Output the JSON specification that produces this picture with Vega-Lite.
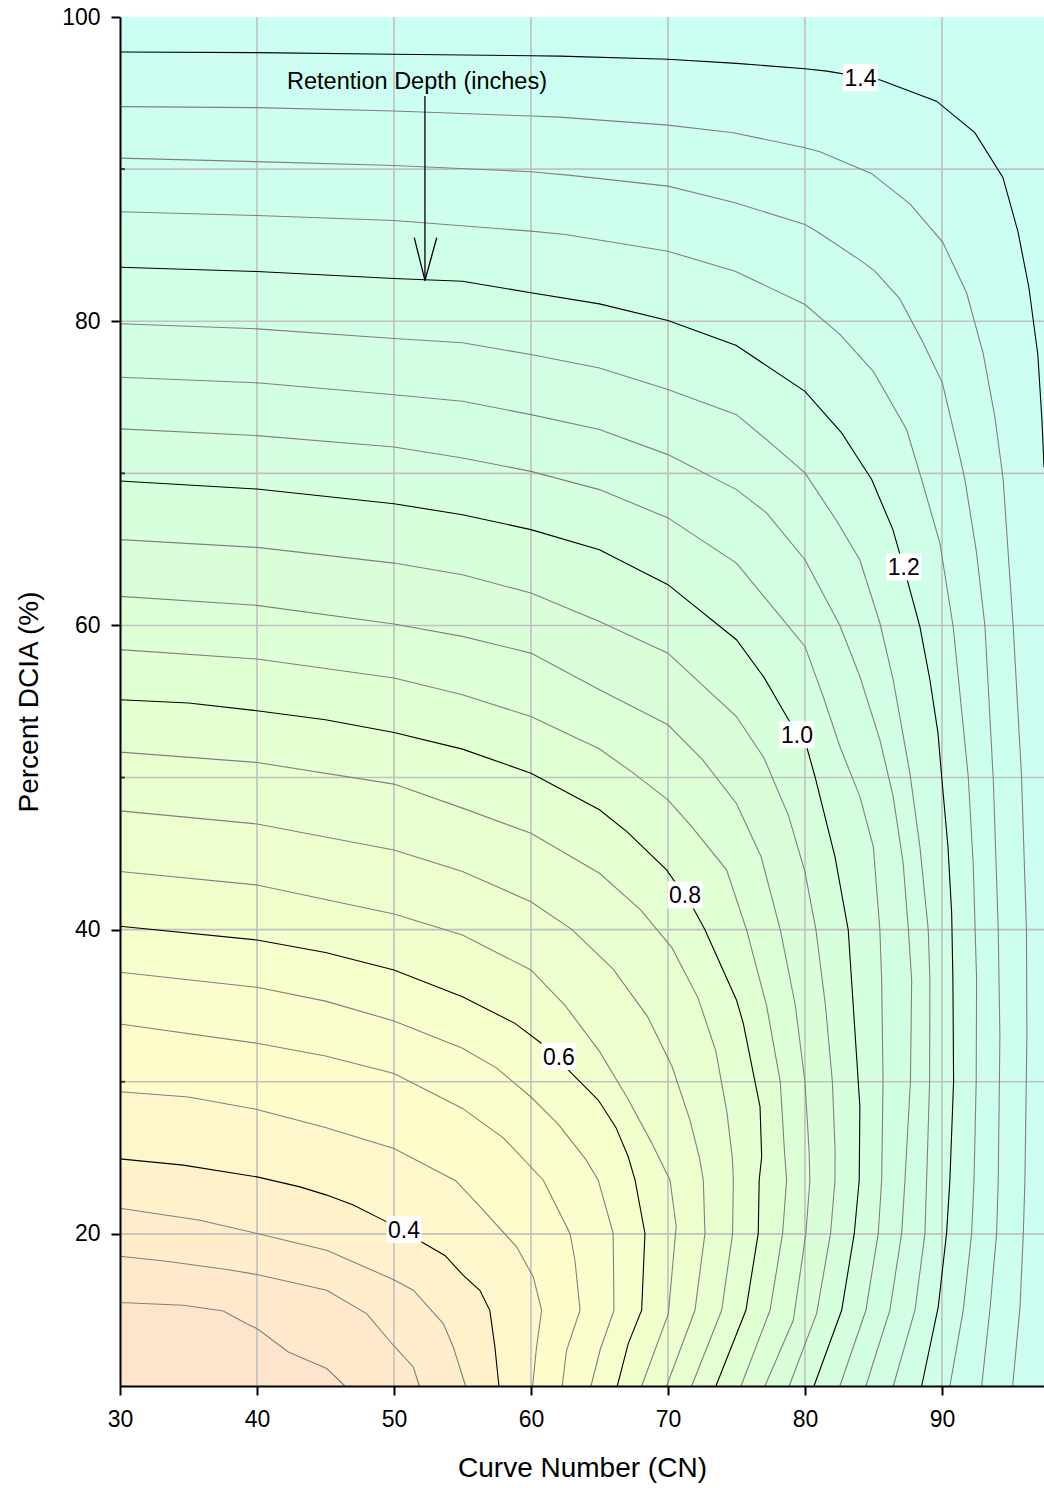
{
"$schema": "https://vega.github.io/schema/vega-lite/v6.json",
"autosize": {"type": "none"},
"padding": {"left": 120, "top": 17, "right": 0, "bottom": 102},
"width": 924,
"height": 1369,
"config": {"font": "Liberation Sans", "view": {"stroke": null}},
"datasets": {
"cont": [
{"l":0.2,"i":1,"x":30,"y":10,"p":"e"},{"l":0.2,"i":2,"x":97.45,"y":10,"p":"e"},{"l":0.2,"i":3,"x":97.45,"y":100,"p":"e"},{"l":0.2,"i":4,"x":30,"y":100,"p":"e"},
{"l":0.25,"i":1,"x":30,"y":15.49},{"l":0.25,"i":2,"x":34.62,"y":15.31},{"l":0.25,"i":3,"x":37.54,"y":14.93},{"l":0.25,"i":4,"x":39.25,"y":14.1},{"l":0.25,"i":5,"x":40,"y":13.78},{"l":0.25,"i":6,"x":42.29,"y":12.24},{"l":0.25,"i":7,"x":45.09,"y":11.15},{"l":0.25,"i":8,"x":46.42,"y":10},{"l":0.25,"i":90,"x":97.45,"y":10,"p":"e"},{"l":0.25,"i":91,"x":97.45,"y":100,"p":"e"},{"l":0.25,"i":92,"x":30,"y":100,"p":"e"},
{"l":0.3,"i":1,"x":30,"y":18.53},{"l":0.3,"i":2,"x":33.4,"y":18.2},{"l":0.3,"i":3,"x":37.8,"y":17.66},{"l":0.3,"i":4,"x":40,"y":17.33},{"l":0.3,"i":5,"x":45.09,"y":16.3},{"l":0.3,"i":6,"x":48,"y":14.76},{"l":0.3,"i":7,"x":49.95,"y":12.68},{"l":0.3,"i":8,"x":51.41,"y":11.25},{"l":0.3,"i":9,"x":51.85,"y":10},{"l":0.3,"i":90,"x":97.45,"y":10,"p":"e"},{"l":0.3,"i":91,"x":97.45,"y":100,"p":"e"},{"l":0.3,"i":92,"x":30,"y":100,"p":"e"},
{"l":0.35,"i":1,"x":30,"y":21.69},{"l":0.35,"i":2,"x":35.84,"y":20.9},{"l":0.35,"i":3,"x":40,"y":20.03},{"l":0.35,"i":4,"x":45.09,"y":18.93},{"l":0.35,"i":5,"x":49.95,"y":17},{"l":0.35,"i":6,"x":51.41,"y":16.3},{"l":0.35,"i":7,"x":53.6,"y":14.1},{"l":0.35,"i":8,"x":54.33,"y":12.56},{"l":0.35,"i":9,"x":55.23,"y":10},{"l":0.35,"i":90,"x":97.45,"y":10,"p":"e"},{"l":0.35,"i":91,"x":97.45,"y":100,"p":"e"},{"l":0.35,"i":92,"x":30,"y":100,"p":"e"},
{"l":0.4,"i":1,"x":30,"y":24.93},{"l":0.4,"i":2,"x":34.62,"y":24.52},{"l":0.4,"i":3,"x":40,"y":23.75},{"l":0.4,"i":4,"x":43.14,"y":23.09},{"l":0.4,"i":5,"x":45.09,"y":22.55},{"l":0.4,"i":6,"x":47.03,"y":21.9},{"l":0.4,"i":7,"x":49.47,"y":20.79},{"l":0.4,"i":8,"x":52.02,"y":19.47},{"l":0.4,"i":9,"x":53.72,"y":18.58},{"l":0.4,"i":10,"x":55.06,"y":17.27},{"l":0.4,"i":11,"x":56.28,"y":16.28},{"l":0.4,"i":12,"x":57,"y":14.96},{"l":0.4,"i":13,"x":57.37,"y":12.54},{"l":0.4,"i":14,"x":57.66,"y":10},{"l":0.4,"i":90,"x":97.45,"y":10,"p":"e"},{"l":0.4,"i":91,"x":97.45,"y":100,"p":"e"},{"l":0.4,"i":92,"x":30,"y":100,"p":"e"},
{"l":0.45,"i":1,"x":30,"y":29.34},{"l":0.45,"i":2,"x":35,"y":29},{"l":0.45,"i":3,"x":40,"y":28.18},{"l":0.45,"i":4,"x":45,"y":27},{"l":0.45,"i":5,"x":50,"y":25.62},{"l":0.45,"i":6,"x":54.5,"y":23.5},{"l":0.45,"i":7,"x":56.52,"y":21.56},{"l":0.45,"i":8,"x":58.95,"y":19.15},{"l":0.45,"i":9,"x":60.17,"y":17.17},{"l":0.45,"i":10,"x":60.78,"y":14.98},{"l":0.45,"i":11,"x":60.4,"y":12.5},{"l":0.45,"i":12,"x":60.12,"y":10},{"l":0.45,"i":90,"x":97.45,"y":10,"p":"e"},{"l":0.45,"i":91,"x":97.45,"y":100,"p":"e"},{"l":0.45,"i":92,"x":30,"y":100,"p":"e"},
{"l":0.5,"i":1,"x":30,"y":33.8},{"l":0.5,"i":2,"x":40,"y":32.53},{"l":0.5,"i":3,"x":45,"y":31.7},{"l":0.5,"i":4,"x":50,"y":30.55},{"l":0.5,"i":5,"x":55,"y":28.25},{"l":0.5,"i":6,"x":58,"y":26.3},{"l":0.5,"i":7,"x":60.9,"y":23.53},{"l":0.5,"i":8,"x":62.85,"y":20.03},{"l":0.5,"i":9,"x":63.21,"y":18.27},{"l":0.5,"i":10,"x":63.58,"y":14.98},{"l":0.5,"i":11,"x":62.6,"y":12.35},{"l":0.5,"i":12,"x":62.28,"y":10},{"l":0.5,"i":90,"x":97.45,"y":10,"p":"e"},{"l":0.5,"i":91,"x":97.45,"y":100,"p":"e"},{"l":0.5,"i":92,"x":30,"y":100,"p":"e"},
{"l":0.55,"i":1,"x":30,"y":37.2},{"l":0.55,"i":2,"x":40,"y":36.21},{"l":0.55,"i":3,"x":45,"y":35.3},{"l":0.55,"i":4,"x":50,"y":34},{"l":0.55,"i":5,"x":55,"y":32.2},{"l":0.55,"i":6,"x":57.5,"y":30.9},{"l":0.55,"i":7,"x":60,"y":29},{"l":0.55,"i":8,"x":62,"y":27.2},{"l":0.55,"i":9,"x":64,"y":24.9},{"l":0.55,"i":10,"x":64.91,"y":23.53},{"l":0.55,"i":11,"x":66,"y":20.03},{"l":0.55,"i":12,"x":66.06,"y":14.98},{"l":0.55,"i":13,"x":65.04,"y":12.35},{"l":0.55,"i":14,"x":64.38,"y":10},{"l":0.55,"i":90,"x":97.45,"y":10,"p":"e"},{"l":0.55,"i":91,"x":97.45,"y":100,"p":"e"},{"l":0.55,"i":92,"x":30,"y":100,"p":"e"},
{"l":0.6,"i":1,"x":30,"y":40.22},{"l":0.6,"i":2,"x":40,"y":39.32},{"l":0.6,"i":3,"x":45,"y":38.5},{"l":0.6,"i":4,"x":50,"y":37.35},{"l":0.6,"i":5,"x":55,"y":35.59},{"l":0.6,"i":6,"x":58.83,"y":33.84},{"l":0.6,"i":7,"x":60.78,"y":32.52},{"l":0.6,"i":8,"x":62.97,"y":30.55},{"l":0.6,"i":9,"x":64.91,"y":28.8},{"l":0.6,"i":10,"x":66.2,"y":27},{"l":0.6,"i":11,"x":67.1,"y":25.07},{"l":0.6,"i":12,"x":67.6,"y":23.53},{"l":0.6,"i":13,"x":68.32,"y":20.03},{"l":0.6,"i":14,"x":68.08,"y":14.98},{"l":0.6,"i":15,"x":67.1,"y":12.79},{"l":0.6,"i":16,"x":66.3,"y":10},{"l":0.6,"i":90,"x":97.45,"y":10,"p":"e"},{"l":0.6,"i":91,"x":97.45,"y":100,"p":"e"},{"l":0.6,"i":92,"x":30,"y":100,"p":"e"},
{"l":0.65,"i":1,"x":30,"y":43.82},{"l":0.65,"i":2,"x":40,"y":42.94},{"l":0.65,"i":3,"x":50,"y":41.03},{"l":0.65,"i":4,"x":55,"y":39.65},{"l":0.65,"i":5,"x":60,"y":37.35},{"l":0.65,"i":6,"x":62.5,"y":35},{"l":0.65,"i":7,"x":65,"y":32},{"l":0.65,"i":8,"x":67,"y":29},{"l":0.65,"i":9,"x":68.8,"y":26},{"l":0.65,"i":10,"x":70.15,"y":23.53},{"l":0.65,"i":11,"x":70.6,"y":20.5},{"l":0.65,"i":12,"x":70.03,"y":14.76},{"l":0.65,"i":13,"x":68.08,"y":10},{"l":0.65,"i":90,"x":97.45,"y":10,"p":"e"},{"l":0.65,"i":91,"x":97.45,"y":100,"p":"e"},{"l":0.65,"i":92,"x":30,"y":100,"p":"e"},
{"l":0.7,"i":1,"x":30,"y":47.81},{"l":0.7,"i":2,"x":40,"y":46.95},{"l":0.7,"i":3,"x":50,"y":45.24},{"l":0.7,"i":4,"x":55,"y":43.82},{"l":0.7,"i":5,"x":60,"y":41.84},{"l":0.7,"i":6,"x":63,"y":40},{"l":0.7,"i":7,"x":66,"y":37.4},{"l":0.7,"i":8,"x":68.5,"y":34.3},{"l":0.7,"i":9,"x":70.3,"y":31},{"l":0.7,"i":10,"x":71.6,"y":27.5},{"l":0.7,"i":11,"x":72.3,"y":25},{"l":0.7,"i":12,"x":72.58,"y":23.53},{"l":0.7,"i":13,"x":72.7,"y":20.03},{"l":0.7,"i":14,"x":71.97,"y":14.98},{"l":0.7,"i":15,"x":69.9,"y":10},{"l":0.7,"i":90,"x":97.45,"y":10,"p":"e"},{"l":0.7,"i":91,"x":97.45,"y":100,"p":"e"},{"l":0.7,"i":92,"x":30,"y":100,"p":"e"},
{"l":0.75,"i":1,"x":30,"y":51.67},{"l":0.75,"i":2,"x":40,"y":50.99},{"l":0.75,"i":3,"x":50,"y":49.57},{"l":0.75,"i":4,"x":55,"y":47.99},{"l":0.75,"i":5,"x":60,"y":46.34},{"l":0.75,"i":6,"x":65,"y":43.71},{"l":0.75,"i":7,"x":68,"y":41.3},{"l":0.75,"i":8,"x":70.3,"y":38.8},{"l":0.75,"i":9,"x":72.2,"y":35.5},{"l":0.75,"i":10,"x":73.5,"y":32},{"l":0.75,"i":11,"x":74.3,"y":28},{"l":0.75,"i":12,"x":74.7,"y":25},{"l":0.75,"i":13,"x":74.77,"y":23.53},{"l":0.75,"i":14,"x":74.72,"y":20.03},{"l":0.75,"i":15,"x":73.92,"y":14.98},{"l":0.75,"i":16,"x":71.73,"y":10},{"l":0.75,"i":90,"x":97.45,"y":10,"p":"e"},{"l":0.75,"i":91,"x":97.45,"y":100,"p":"e"},{"l":0.75,"i":92,"x":30,"y":100,"p":"e"},
{"l":0.8,"i":1,"x":30,"y":55.12},{"l":0.8,"i":2,"x":35,"y":54.9},{"l":0.8,"i":3,"x":40,"y":54.39},{"l":0.8,"i":4,"x":45,"y":53.8},{"l":0.8,"i":5,"x":50,"y":52.96},{"l":0.8,"i":6,"x":55,"y":51.87},{"l":0.8,"i":7,"x":60,"y":50.29},{"l":0.8,"i":8,"x":60.9,"y":49.85},{"l":0.8,"i":9,"x":65,"y":47.88},{"l":0.8,"i":10,"x":67,"y":46.45},{"l":0.8,"i":11,"x":69.9,"y":43.93},{"l":0.8,"i":12,"x":71.85,"y":41.41},{"l":0.8,"i":13,"x":72.7,"y":39.99},{"l":0.8,"i":14,"x":75,"y":35.38},{"l":0.8,"i":15,"x":75.5,"y":33.84},{"l":0.8,"i":16,"x":76.72,"y":28.36},{"l":0.8,"i":17,"x":76.84,"y":25.07},{"l":0.8,"i":18,"x":76.66,"y":23.55},{"l":0.8,"i":19,"x":76.59,"y":20.03},{"l":0.8,"i":20,"x":75.69,"y":14.98},{"l":0.8,"i":21,"x":73.5,"y":10},{"l":0.8,"i":90,"x":97.45,"y":10,"p":"e"},{"l":0.8,"i":91,"x":97.45,"y":100,"p":"e"},{"l":0.8,"i":92,"x":30,"y":100,"p":"e"},
{"l":0.85,"i":1,"x":30,"y":58.41},{"l":0.85,"i":2,"x":40,"y":57.79},{"l":0.85,"i":3,"x":50,"y":56.54},{"l":0.85,"i":4,"x":55,"y":55.44},{"l":0.85,"i":5,"x":60,"y":54.01},{"l":0.85,"i":6,"x":63.58,"y":52.48},{"l":0.85,"i":7,"x":64.93,"y":51.93},{"l":0.85,"i":8,"x":67.48,"y":50.29},{"l":0.85,"i":9,"x":70,"y":48.53},{"l":0.85,"i":10,"x":71.73,"y":46.78},{"l":0.85,"i":11,"x":74.28,"y":43.93},{"l":0.85,"i":12,"x":75.74,"y":39.98},{"l":0.85,"i":13,"x":77.2,"y":35},{"l":0.85,"i":14,"x":78.2,"y":30},{"l":0.85,"i":15,"x":78.5,"y":25.5},{"l":0.85,"i":16,"x":78.66,"y":23.53},{"l":0.85,"i":17,"x":78.37,"y":20.03},{"l":0.85,"i":18,"x":77.45,"y":14.98},{"l":0.85,"i":19,"x":75.33,"y":10},{"l":0.85,"i":90,"x":97.45,"y":10,"p":"e"},{"l":0.85,"i":91,"x":97.45,"y":100,"p":"e"},{"l":0.85,"i":92,"x":30,"y":100,"p":"e"},
{"l":0.9,"i":1,"x":30,"y":61.91},{"l":0.9,"i":2,"x":40,"y":61.32},{"l":0.9,"i":3,"x":50,"y":60.09},{"l":0.9,"i":4,"x":55,"y":59.28},{"l":0.9,"i":5,"x":60,"y":58.18},{"l":0.9,"i":6,"x":65,"y":55.77},{"l":0.9,"i":7,"x":70,"y":53.47},{"l":0.9,"i":8,"x":72.5,"y":51.2},{"l":0.9,"i":9,"x":75,"y":48.3},{"l":0.9,"i":10,"x":76.8,"y":44.8},{"l":0.9,"i":11,"x":78.2,"y":40},{"l":0.9,"i":12,"x":79.3,"y":35},{"l":0.9,"i":13,"x":80,"y":30},{"l":0.9,"i":14,"x":80.3,"y":25.5},{"l":0.9,"i":15,"x":80.36,"y":23.53},{"l":0.9,"i":16,"x":80.07,"y":20.03},{"l":0.9,"i":17,"x":79.15,"y":14.32},{"l":0.9,"i":18,"x":77.08,"y":10},{"l":0.9,"i":90,"x":97.45,"y":10,"p":"e"},{"l":0.9,"i":91,"x":97.45,"y":100,"p":"e"},{"l":0.9,"i":92,"x":30,"y":100,"p":"e"},
{"l":0.95,"i":1,"x":30,"y":65.64},{"l":0.95,"i":2,"x":40,"y":65.13},{"l":0.95,"i":3,"x":50,"y":64.1},{"l":0.95,"i":4,"x":55,"y":63.33},{"l":0.95,"i":5,"x":60,"y":62.13},{"l":0.95,"i":6,"x":65,"y":60.26},{"l":0.95,"i":7,"x":70,"y":58.18},{"l":0.95,"i":8,"x":75,"y":54.01},{"l":0.95,"i":9,"x":77,"y":51.3},{"l":0.95,"i":10,"x":78.8,"y":47.5},{"l":0.95,"i":11,"x":80,"y":43.8},{"l":0.95,"i":12,"x":80.8,"y":40},{"l":0.95,"i":13,"x":81.5,"y":35},{"l":0.95,"i":14,"x":82,"y":30},{"l":0.95,"i":15,"x":82.2,"y":25.5},{"l":0.95,"i":16,"x":82.19,"y":23.53},{"l":0.95,"i":17,"x":81.87,"y":20.03},{"l":0.95,"i":18,"x":80.85,"y":14.76},{"l":0.95,"i":19,"x":78.85,"y":10},{"l":0.95,"i":90,"x":97.45,"y":10,"p":"e"},{"l":0.95,"i":91,"x":97.45,"y":100,"p":"e"},{"l":0.95,"i":92,"x":30,"y":100,"p":"e"},
{"l":1.0,"i":1,"x":30,"y":69.5},{"l":1.0,"i":2,"x":40,"y":68.97},{"l":1.0,"i":3,"x":50,"y":68},{"l":1.0,"i":4,"x":55,"y":67.28},{"l":1.0,"i":5,"x":60,"y":66.3},{"l":1.0,"i":6,"x":65,"y":64.98},{"l":1.0,"i":7,"x":70,"y":62.68},{"l":1.0,"i":8,"x":75,"y":59.06},{"l":1.0,"i":9,"x":77,"y":56.6},{"l":1.0,"i":10,"x":78.8,"y":53.8},{"l":1.0,"i":11,"x":80.12,"y":52.04},{"l":1.0,"i":12,"x":80.73,"y":50.07},{"l":1.0,"i":13,"x":82.19,"y":44.8},{"l":1.0,"i":14,"x":83.16,"y":39.98},{"l":1.0,"i":15,"x":83.53,"y":34.93},{"l":1.0,"i":16,"x":84.01,"y":28.36},{"l":1.0,"i":17,"x":83.96,"y":23.53},{"l":1.0,"i":18,"x":83.6,"y":20.03},{"l":1.0,"i":19,"x":82.68,"y":14.98},{"l":1.0,"i":20,"x":80.66,"y":10},{"l":1.0,"i":90,"x":97.45,"y":10,"p":"e"},{"l":1.0,"i":91,"x":97.45,"y":100,"p":"e"},{"l":1.0,"i":92,"x":30,"y":100,"p":"e"},
{"l":1.05,"i":1,"x":30,"y":72.92},{"l":1.05,"i":2,"x":40,"y":72.48},{"l":1.05,"i":3,"x":50,"y":71.73},{"l":1.05,"i":4,"x":55,"y":71.01},{"l":1.05,"i":5,"x":60,"y":70.13},{"l":1.05,"i":6,"x":65,"y":68.93},{"l":1.05,"i":7,"x":70,"y":67.07},{"l":1.05,"i":8,"x":75,"y":64.1},{"l":1.05,"i":9,"x":80,"y":58.62},{"l":1.05,"i":10,"x":81.3,"y":55.4},{"l":1.05,"i":11,"x":82.55,"y":52.04},{"l":1.05,"i":12,"x":84.01,"y":48.75},{"l":1.05,"i":13,"x":84.99,"y":45.46},{"l":1.05,"i":14,"x":85.47,"y":39.98},{"l":1.05,"i":15,"x":85.6,"y":36.69},{"l":1.05,"i":16,"x":85.7,"y":30},{"l":1.05,"i":17,"x":85.6,"y":23.53},{"l":1.05,"i":18,"x":85.35,"y":20.03},{"l":1.05,"i":19,"x":84.45,"y":14.98},{"l":1.05,"i":20,"x":82.55,"y":10},{"l":1.05,"i":90,"x":97.45,"y":10,"p":"e"},{"l":1.05,"i":91,"x":97.45,"y":100,"p":"e"},{"l":1.05,"i":92,"x":30,"y":100,"p":"e"},
{"l":1.1,"i":1,"x":30,"y":76.32},{"l":1.1,"i":2,"x":40,"y":75.95},{"l":1.1,"i":3,"x":50,"y":75.17},{"l":1.1,"i":4,"x":55,"y":74.74},{"l":1.1,"i":5,"x":60,"y":73.86},{"l":1.1,"i":6,"x":65,"y":72.88},{"l":1.1,"i":7,"x":70,"y":71.23},{"l":1.1,"i":8,"x":75,"y":68.93},{"l":1.1,"i":9,"x":77.2,"y":67.4},{"l":1.1,"i":10,"x":80,"y":64.32},{"l":1.1,"i":11,"x":82.55,"y":60},{"l":1.1,"i":12,"x":84.01,"y":56.64},{"l":1.1,"i":13,"x":85.47,"y":52.48},{"l":1.1,"i":14,"x":86.44,"y":48.75},{"l":1.1,"i":15,"x":87.17,"y":44.37},{"l":1.1,"i":16,"x":87.55,"y":40},{"l":1.1,"i":17,"x":87.79,"y":36.69},{"l":1.1,"i":18,"x":87.7,"y":30},{"l":1.1,"i":19,"x":87.3,"y":23.53},{"l":1.1,"i":20,"x":87.06,"y":20.03},{"l":1.1,"i":21,"x":86.2,"y":14.98},{"l":1.1,"i":22,"x":84.45,"y":10},{"l":1.1,"i":90,"x":97.45,"y":10,"p":"e"},{"l":1.1,"i":91,"x":97.45,"y":100,"p":"e"},{"l":1.1,"i":92,"x":30,"y":100,"p":"e"},
{"l":1.15,"i":1,"x":30,"y":79.83},{"l":1.15,"i":2,"x":40,"y":79.5},{"l":1.15,"i":3,"x":50,"y":78.86},{"l":1.15,"i":4,"x":55,"y":78.58},{"l":1.15,"i":5,"x":60,"y":77.81},{"l":1.15,"i":6,"x":65,"y":76.93},{"l":1.15,"i":7,"x":70,"y":75.51},{"l":1.15,"i":8,"x":75,"y":73.86},{"l":1.15,"i":9,"x":77.2,"y":72.22},{"l":1.15,"i":10,"x":80,"y":70.03},{"l":1.15,"i":11,"x":82.3,"y":66.9},{"l":1.15,"i":12,"x":84.01,"y":64.3},{"l":1.15,"i":13,"x":85.47,"y":60.16},{"l":1.15,"i":14,"x":86.44,"y":56.43},{"l":1.15,"i":15,"x":87.66,"y":50.29},{"l":1.15,"i":16,"x":88.39,"y":45.46},{"l":1.15,"i":17,"x":89,"y":39.98},{"l":1.15,"i":18,"x":89.12,"y":36.69},{"l":1.15,"i":19,"x":89.1,"y":30},{"l":1.15,"i":20,"x":88.88,"y":23.53},{"l":1.15,"i":21,"x":88.76,"y":20.03},{"l":1.15,"i":22,"x":88.03,"y":14.98},{"l":1.15,"i":23,"x":86.45,"y":10},{"l":1.15,"i":90,"x":97.45,"y":10,"p":"e"},{"l":1.15,"i":91,"x":97.45,"y":100,"p":"e"},{"l":1.15,"i":92,"x":30,"y":100,"p":"e"},
{"l":1.2,"i":1,"x":30,"y":83.55},{"l":1.2,"i":2,"x":40,"y":83.27},{"l":1.2,"i":3,"x":50,"y":82.81},{"l":1.2,"i":4,"x":55,"y":82.63},{"l":1.2,"i":5,"x":60,"y":81.87},{"l":1.2,"i":6,"x":65,"y":81.14},{"l":1.2,"i":7,"x":70,"y":80.05},{"l":1.2,"i":8,"x":75,"y":78.4},{"l":1.2,"i":9,"x":80,"y":75.39},{"l":1.2,"i":10,"x":82.68,"y":72.66},{"l":1.2,"i":11,"x":84.01,"y":70.79},{"l":1.2,"i":12,"x":84.87,"y":69.59},{"l":1.2,"i":13,"x":86.42,"y":66.3},{"l":1.2,"i":14,"x":87.52,"y":62.81},{"l":1.2,"i":15,"x":88.39,"y":59.92},{"l":1.2,"i":16,"x":89.12,"y":56.43},{"l":1.2,"i":17,"x":89.71,"y":52.94},{"l":1.2,"i":18,"x":89.98,"y":50.05},{"l":1.2,"i":19,"x":90.44,"y":45.45},{"l":1.2,"i":20,"x":90.71,"y":41.1},{"l":1.2,"i":21,"x":90.8,"y":36.7},{"l":1.2,"i":22,"x":90.85,"y":30},{"l":1.2,"i":23,"x":90.58,"y":23.55},{"l":1.2,"i":24,"x":90.34,"y":20.05},{"l":1.2,"i":25,"x":89.73,"y":15.2},{"l":1.2,"i":26,"x":88.52,"y":10},{"l":1.2,"i":90,"x":97.45,"y":10,"p":"e"},{"l":1.2,"i":91,"x":97.45,"y":100,"p":"e"},{"l":1.2,"i":92,"x":30,"y":100,"p":"e"},
{"l":1.25,"i":1,"x":30,"y":87.2},{"l":1.25,"i":2,"x":40,"y":86.95},{"l":1.25,"i":3,"x":50,"y":86.62},{"l":1.25,"i":4,"x":60,"y":85.92},{"l":1.25,"i":5,"x":62.5,"y":85.7},{"l":1.25,"i":6,"x":70,"y":84.6},{"l":1.25,"i":7,"x":74.9,"y":83.29},{"l":1.25,"i":8,"x":80,"y":81.1},{"l":1.25,"i":9,"x":82.55,"y":79.13},{"l":1.25,"i":10,"x":84.99,"y":76.71},{"l":1.25,"i":11,"x":87.42,"y":72.88},{"l":1.25,"i":12,"x":88.52,"y":69.59},{"l":1.25,"i":13,"x":89.85,"y":65.42},{"l":1.25,"i":14,"x":90.82,"y":59.93},{"l":1.25,"i":15,"x":91.92,"y":50.07},{"l":1.25,"i":16,"x":92.28,"y":44.37},{"l":1.25,"i":17,"x":92.53,"y":36.69},{"l":1.25,"i":18,"x":92.5,"y":30},{"l":1.25,"i":19,"x":92.34,"y":23.55},{"l":1.25,"i":20,"x":92.17,"y":20.05},{"l":1.25,"i":21,"x":91.56,"y":15},{"l":1.25,"i":22,"x":90.58,"y":10},{"l":1.25,"i":90,"x":97.45,"y":10,"p":"e"},{"l":1.25,"i":91,"x":97.45,"y":100,"p":"e"},{"l":1.25,"i":92,"x":30,"y":100,"p":"e"},
{"l":1.3,"i":1,"x":30,"y":90.72},{"l":1.3,"i":2,"x":40,"y":90.49},{"l":1.3,"i":3,"x":50,"y":90.24},{"l":1.3,"i":4,"x":60,"y":89.83},{"l":1.3,"i":5,"x":62.9,"y":89.59},{"l":1.3,"i":6,"x":70,"y":88.88},{"l":1.3,"i":7,"x":74.9,"y":87.79},{"l":1.3,"i":8,"x":80,"y":86.36},{"l":1.3,"i":9,"x":80.85,"y":85.92},{"l":1.3,"i":10,"x":84.13,"y":83.95},{"l":1.3,"i":11,"x":85.1,"y":83.29},{"l":1.3,"i":12,"x":86.9,"y":81.5},{"l":1.3,"i":13,"x":88.63,"y":78.58},{"l":1.3,"i":14,"x":90.03,"y":75.95},{"l":1.3,"i":15,"x":91.3,"y":71.12},{"l":1.3,"i":16,"x":91.68,"y":69.57},{"l":1.3,"i":17,"x":92.53,"y":64.76},{"l":1.3,"i":18,"x":93.14,"y":59.93},{"l":1.3,"i":19,"x":93.75,"y":49.85},{"l":1.3,"i":20,"x":94.11,"y":39.98},{"l":1.3,"i":21,"x":94.23,"y":33},{"l":1.3,"i":22,"x":94.11,"y":23.53},{"l":1.3,"i":23,"x":93.99,"y":20.05},{"l":1.3,"i":24,"x":93.5,"y":15},{"l":1.3,"i":25,"x":92.9,"y":10},{"l":1.3,"i":90,"x":97.45,"y":10,"p":"e"},{"l":1.3,"i":91,"x":97.45,"y":100,"p":"e"},{"l":1.3,"i":92,"x":30,"y":100,"p":"e"},
{"l":1.35,"i":1,"x":30,"y":94.11},{"l":1.35,"i":2,"x":40,"y":94.04},{"l":1.35,"i":3,"x":50,"y":93.82},{"l":1.35,"i":4,"x":60,"y":93.49},{"l":1.35,"i":5,"x":62.1,"y":93.42},{"l":1.35,"i":6,"x":70,"y":92.89},{"l":1.35,"i":7,"x":74.75,"y":92.39},{"l":1.35,"i":8,"x":80,"y":91.41},{"l":1.35,"i":9,"x":81.1,"y":91.14},{"l":1.35,"i":10,"x":84.87,"y":89.7},{"l":1.35,"i":11,"x":87.66,"y":87.72},{"l":1.35,"i":12,"x":90.05,"y":85.2},{"l":1.35,"i":13,"x":91.8,"y":81.87},{"l":1.35,"i":14,"x":93,"y":77.92},{"l":1.35,"i":15,"x":93.86,"y":73.75},{"l":1.35,"i":16,"x":94.47,"y":69.6},{"l":1.35,"i":17,"x":95.2,"y":59.94},{"l":1.35,"i":18,"x":95.81,"y":50.07},{"l":1.35,"i":19,"x":96.17,"y":39.98},{"l":1.35,"i":20,"x":96.2,"y":33},{"l":1.35,"i":21,"x":96.06,"y":23.57},{"l":1.35,"i":22,"x":95.94,"y":20.05},{"l":1.35,"i":23,"x":95.7,"y":15.2},{"l":1.35,"i":24,"x":95.16,"y":10},{"l":1.35,"i":90,"x":97.45,"y":10,"p":"e"},{"l":1.35,"i":91,"x":97.45,"y":100,"p":"e"},{"l":1.35,"i":92,"x":30,"y":100,"p":"e"},
{"l":1.4,"i":1,"x":30,"y":97.7},{"l":1.4,"i":2,"x":40,"y":97.66},{"l":1.4,"i":3,"x":50,"y":97.55},{"l":1.4,"i":4,"x":60,"y":97.45},{"l":1.4,"i":5,"x":62.1,"y":97.43},{"l":1.4,"i":6,"x":70,"y":97.22},{"l":1.4,"i":7,"x":75,"y":96.95},{"l":1.4,"i":8,"x":80,"y":96.6},{"l":1.4,"i":9,"x":81.6,"y":96.44},{"l":1.4,"i":10,"x":85.5,"y":95.86},{"l":1.4,"i":11,"x":89.6,"y":94.47},{"l":1.4,"i":12,"x":92.4,"y":92.4},{"l":1.4,"i":13,"x":94.45,"y":89.45},{"l":1.4,"i":14,"x":95.55,"y":85.89},{"l":1.4,"i":15,"x":96.35,"y":82.2},{"l":1.4,"i":16,"x":97,"y":77.8},{"l":1.4,"i":17,"x":97.3,"y":73.5},{"l":1.4,"i":18,"x":97.45,"y":70.4},{"l":1.4,"i":91,"x":97.45,"y":100,"p":"e"},{"l":1.4,"i":92,"x":30,"y":100,"p":"e"}
],
"labels": [
{"t":"1.4","x":84.05,"y":96.0},{"t":"1.2","x":87.21,"y":63.84},{"t":"1.0","x":79.42,"y":52.81},{"t":"0.8","x":71.24,"y":42.28},{"t":"0.6","x":62.04,"y":31.66},{"t":"0.4","x":50.73,"y":20.28}
],
"note": [{"t":"Retention Depth (inches)","x":51.68,"y":95.24}],
"arrow": [
{"x":52.26,"y":94.8,"x2":52.26,"y2":82.68},{"x":51.48,"y":85.49,"x2":52.26,"y2":82.68},{"x":53.12,"y":85.49,"x2":52.26,"y2":82.68}
],
"gx": [{"x":40},{"x":50},{"x":60},{"x":70},{"x":80},{"x":90}],
"gy": [{"y":20},{"y":30},{"y":40},{"y":50},{"y":60},{"y":70},{"y":80},{"y":90}],
"minor": [{"y":30},{"y":50},{"y":70},{"y":90}]
},
"layer": [
{
"data": {"name": "cont"},
"mark": {"type": "line", "filled": true, "interpolate": "linear-closed", "strokeWidth": 0},
"encoding": {
"x": {"field": "x", "type": "quantitative", "scale": {"domain": [30, 97.45], "nice": false, "zero": false},
"axis": {"values": [30,40,50,60,70,80,90], "grid": false, "labelFlush": false, "labelOverlap": false, "tickSize": 9, "tickWidth": 2, "tickColor": "black", "domainColor": "black", "domainWidth": 2, "labelFontSize": 23, "labelColor": "black", "labelPadding": 13, "title": "Curve Number (CN)", "titleFontSize": 28, "titleFontWeight": "normal", "titleColor": "black", "titlePadding": 23, "zindex": 1}},
"y": {"field": "y", "type": "quantitative", "scale": {"domain": [10, 100], "nice": false, "zero": false},
"axis": {"values": [20,40,60,80,100], "grid": false, "labelFlush": false, "labelOverlap": false, "tickSize": 9, "tickWidth": 2, "tickColor": "black", "domainColor": "black", "domainWidth": 2, "labelFontSize": 23, "labelColor": "black", "labelPadding": 11, "title": "Percent DCIA (%)", "titleFontSize": 28, "titleFontWeight": "normal", "titleColor": "black", "titlePadding": 18, "zindex": 1}},
"color": {"field": "l", "type": "quantitative", "legend": null,
"scale": {"domain": [0.2, 0.45, 0.6, 0.8, 1.0, 1.2, 1.4], "range": ["#fee4cc", "#fffccc", "#f1ffcc", "#e0ffd3", "#d5ffde", "#cfffe9", "#ccfff4"]}},
"detail": {"field": "l"},
"order": {"field": "i", "type": "quantitative"}
}
},
{
"data": {"name": "gx"},
"mark": {"type": "rule", "color": "#c0c0c0", "strokeWidth": 1.6},
"encoding": {"x": {"field": "x", "type": "quantitative", "scale": {"domain": [30, 97.45], "nice": false, "zero": false}}}
},
{
"data": {"name": "gy"},
"mark": {"type": "rule", "color": "#c0c0c0", "strokeWidth": 1.6},
"encoding": {"y": {"field": "y", "type": "quantitative", "scale": {"domain": [10, 100], "nice": false, "zero": false}}}
},
{
"data": {"name": "cont"},
"transform": [{"filter": "datum.p != 'e'"}],
"mark": {"type": "line", "strokeWidth": 1.1},
"encoding": {
"x": {"field": "x", "type": "quantitative", "scale": {"domain": [30, 97.45], "nice": false, "zero": false}},
"y": {"field": "y", "type": "quantitative", "scale": {"domain": [10, 100], "nice": false, "zero": false}},
"detail": {"field": "l"},
"order": {"field": "i", "type": "quantitative"},
"color": {"condition": {"test": "indexof([0.4,0.6,0.8,1,1.2,1.4], datum.l) >= 0", "value": "#000000"}, "value": "#808080"}
}
},
{
"data": {"name": "labels"},
"mark": {"type": "point", "shape": "M-1,-0.77L1,-0.77L1,0.77L-1,0.77Z", "size": 1225, "filled": true, "fill": "white", "opacity": 1, "strokeWidth": 0},
"encoding": {
"x": {"field": "x", "type": "quantitative", "scale": {"domain": [30, 97.45], "nice": false, "zero": false}},
"y": {"field": "y", "type": "quantitative", "scale": {"domain": [10, 100], "nice": false, "zero": false}}
}
},
{
"data": {"name": "labels"},
"mark": {"type": "text", "fontSize": 23, "align": "center", "baseline": "middle", "dy": 1, "color": "black"},
"encoding": {
"x": {"field": "x", "type": "quantitative", "scale": {"domain": [30, 97.45], "nice": false, "zero": false}},
"y": {"field": "y", "type": "quantitative", "scale": {"domain": [10, 100], "nice": false, "zero": false}},
"text": {"field": "t"}
}
},
{
"data": {"name": "note"},
"mark": {"type": "text", "fontSize": 23.5, "align": "center", "baseline": "alphabetic", "color": "black"},
"encoding": {
"x": {"field": "x", "type": "quantitative", "scale": {"domain": [30, 97.45], "nice": false, "zero": false}},
"y": {"field": "y", "type": "quantitative", "scale": {"domain": [10, 100], "nice": false, "zero": false}},
"text": {"field": "t"}
}
},
{
"data": {"name": "arrow"},
"mark": {"type": "rule", "color": "black", "strokeWidth": 1.3},
"encoding": {
"x": {"field": "x", "type": "quantitative", "scale": {"domain": [30, 97.45], "nice": false, "zero": false}},
"y": {"field": "y", "type": "quantitative", "scale": {"domain": [10, 100], "nice": false, "zero": false}},
"x2": {"field": "x2"},
"y2": {"field": "y2"}
}
},
{
"data": {"name": "minor"},
"mark": {"type": "tick", "orient": "horizontal", "size": 5, "thickness": 2, "xOffset": 2.5, "color": "black"},
"encoding": {
"x": {"datum": 30, "type": "quantitative", "scale": {"domain": [30, 97.45], "nice": false, "zero": false}},
"y": {"field": "y", "type": "quantitative", "scale": {"domain": [10, 100], "nice": false, "zero": false}}
}
},
{
"mark": {"type": "rule", "color": "black", "strokeWidth": 2},
"encoding": {"y": {"datum": 100, "type": "quantitative", "scale": {"domain": [10, 100], "nice": false, "zero": false}}}
}
]
}
